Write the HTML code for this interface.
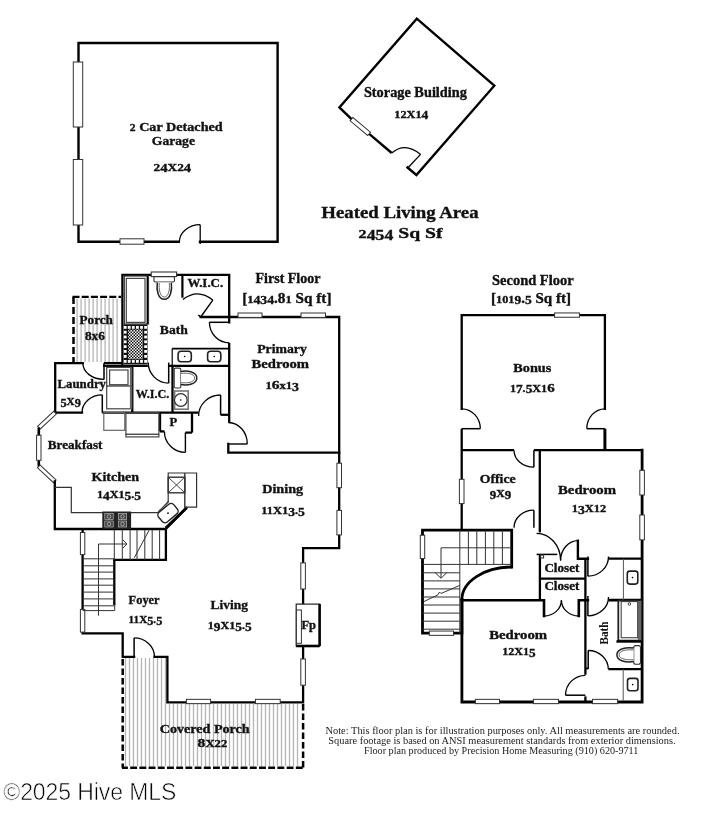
<!DOCTYPE html>
<html><head><meta charset="utf-8"><style>
html,body{margin:0;padding:0;background:#fff;width:726px;height:830px;overflow:hidden}
svg{display:block;will-change:transform}
</style></head><body>
<svg width="726" height="830" viewBox="0 0 726 830">
<rect width="726" height="830" fill="#fff"/>
<polyline points="178.8,241.8 78.5,241.8 78.5,43 277.6,43 277.6,241.8 200,241.8" fill="none" stroke="#000" stroke-width="2.4" stroke-linejoin="miter" stroke-linecap="square" />
<rect x="73.3" y="62" width="9.4" height="65" fill="#fff" stroke="#333" stroke-width="1" />
<rect x="73.3" y="159.5" width="9.4" height="65.5" fill="#fff" stroke="#333" stroke-width="1" />
<rect x="120" y="238.8" width="24" height="5.4" fill="#fff" stroke="#333" stroke-width="1" />
<line x1="200.2" y1="244" x2="200.2" y2="224.7" stroke="#000" stroke-width="1.3" />
<path d="M179.4,241.8 A20.8,17.1 0 0 1 200.2,224.7" fill="none" stroke="#000" stroke-width="1.3" />
<text x="129.8" y="130.8" font-family="Liberation Serif" font-weight="bold" textLength="92.9" lengthAdjust="spacingAndGlyphs" fill="#111" stroke="#111" stroke-width="0.35" xml:space="preserve"><tspan font-size="10.99" dy="0.00">2</tspan><tspan font-size="13.40" dy="0.00"> </tspan><tspan font-size="13.40" dy="0.00">C</tspan><tspan font-size="13.40" dy="0.00">a</tspan><tspan font-size="13.40" dy="0.00">r</tspan><tspan font-size="13.40" dy="0.00"> </tspan><tspan font-size="13.40" dy="0.00">D</tspan><tspan font-size="13.40" dy="0.00">e</tspan><tspan font-size="13.40" dy="0.00">t</tspan><tspan font-size="13.40" dy="0.00">a</tspan><tspan font-size="13.40" dy="0.00">c</tspan><tspan font-size="13.40" dy="0.00">h</tspan><tspan font-size="13.40" dy="0.00">e</tspan><tspan font-size="13.40" dy="0.00">d</tspan></text>
<text x="151.8" y="145.3" font-family="Liberation Serif" font-weight="bold" font-size="13.0" textLength="43.2" lengthAdjust="spacingAndGlyphs" fill="#111" stroke="#111" stroke-width="0.35" >Garage</text>
<text x="153.6" y="170.6" font-family="Liberation Serif" font-weight="bold" textLength="37.6" lengthAdjust="spacingAndGlyphs" fill="#111" stroke="#111" stroke-width="0.35"><tspan font-size="10.80" dy="0.00">2</tspan><tspan font-size="11.88" dy="1.70">4</tspan><tspan font-size="10.80" dy="-1.70">X</tspan><tspan font-size="10.80" dy="0.00">2</tspan><tspan font-size="11.88" dy="1.70">4</tspan></text>
<polyline points="407.5,167.5 416.4,175 494.3,85.7 416.8,18.7 339.4,107.4 351.7,119.3" fill="none" stroke="#000" stroke-width="2.4" stroke-linejoin="miter" stroke-linecap="square" />
<line x1="368.9" y1="133.7" x2="391.7" y2="153" stroke="#000" stroke-width="2.4" />
<g transform="translate(360.3,126.5) rotate(40)"><rect x="-11.5" y="-2.2" width="23" height="4.4" fill="#fff" stroke="#333" stroke-width="1"/></g>
<line x1="408.2" y1="167.5" x2="420.6" y2="154.4" stroke="#000" stroke-width="1.3" />
<path d="M391.7,153 Q405,141.5 420.6,154.4" fill="none" stroke="#000" stroke-width="1.3" />
<text x="363.9" y="97.0" font-family="Liberation Serif" font-weight="bold" font-size="13.8" textLength="103" lengthAdjust="spacingAndGlyphs" fill="#111" stroke="#111" stroke-width="0.35" >Storage Building</text>
<text x="394.3" y="117.5" font-family="Liberation Serif" font-weight="bold" textLength="34" lengthAdjust="spacingAndGlyphs" fill="#111" stroke="#111" stroke-width="0.35"><tspan font-size="10.80" dy="0.00">1</tspan><tspan font-size="10.80" dy="0.00">2</tspan><tspan font-size="10.80" dy="0.00">X</tspan><tspan font-size="10.80" dy="0.00">1</tspan><tspan font-size="11.88" dy="1.70">4</tspan></text>
<text x="321.3" y="217.8" font-family="Liberation Serif" font-weight="bold" font-size="16.5" textLength="157.3" lengthAdjust="spacingAndGlyphs" fill="#111" stroke="#111" stroke-width="0.35" >Heated Living Area</text>
<text x="358.6" y="238.4" font-family="Liberation Serif" font-weight="bold" textLength="84" lengthAdjust="spacingAndGlyphs" fill="#111" stroke="#111" stroke-width="0.35" xml:space="preserve"><tspan font-size="12.79" dy="0.00">2</tspan><tspan font-size="14.07" dy="2.01">4</tspan><tspan font-size="14.07" dy="0.00">5</tspan><tspan font-size="14.07" dy="0.00">4</tspan><tspan font-size="15.60" dy="-2.01"> </tspan><tspan font-size="15.60" dy="0.00">S</tspan><tspan font-size="15.60" dy="0.00">q</tspan><tspan font-size="15.60" dy="0.00"> </tspan><tspan font-size="15.60" dy="0.00">S</tspan><tspan font-size="15.60" dy="0.00">f</tspan></text>
<text x="255.5" y="282.5" font-family="Liberation Serif" font-weight="bold" font-size="13.8" textLength="65" lengthAdjust="spacingAndGlyphs" fill="#111" stroke="#111" stroke-width="0.35" >First Floor</text>
<text x="242.2" y="302.5" font-family="Liberation Serif" font-weight="bold" textLength="89.3" lengthAdjust="spacingAndGlyphs" fill="#111" stroke="#111" stroke-width="0.35" xml:space="preserve"><tspan font-size="13.80" dy="0.00">[</tspan><tspan font-size="11.32" dy="0.00">1</tspan><tspan font-size="12.45" dy="1.78">4</tspan><tspan font-size="12.45" dy="0.00">3</tspan><tspan font-size="12.45" dy="0.00">4</tspan><tspan font-size="13.80" dy="-1.78">.</tspan><tspan font-size="13.92" dy="0.00">8</tspan><tspan font-size="11.32" dy="0.00">1</tspan><tspan font-size="13.80" dy="0.00"> </tspan><tspan font-size="13.80" dy="0.00">S</tspan><tspan font-size="13.80" dy="0.00">q</tspan><tspan font-size="13.80" dy="0.00"> </tspan><tspan font-size="13.80" dy="0.00">f</tspan><tspan font-size="13.80" dy="0.00">t</tspan><tspan font-size="13.80" dy="0.00">]</tspan></text>
<text x="492" y="284.8" font-family="Liberation Serif" font-weight="bold" font-size="13.8" textLength="81.6" lengthAdjust="spacingAndGlyphs" fill="#111" stroke="#111" stroke-width="0.35" >Second Floor</text>
<text x="491" y="302.5" font-family="Liberation Serif" font-weight="bold" textLength="80" lengthAdjust="spacingAndGlyphs" fill="#111" stroke="#111" stroke-width="0.35" xml:space="preserve"><tspan font-size="13.80" dy="0.00">[</tspan><tspan font-size="11.32" dy="0.00">1</tspan><tspan font-size="11.32" dy="0.00">0</tspan><tspan font-size="11.32" dy="0.00">1</tspan><tspan font-size="12.45" dy="1.78">9</tspan><tspan font-size="13.80" dy="-1.78">.</tspan><tspan font-size="12.45" dy="1.78">5</tspan><tspan font-size="13.80" dy="-1.78"> </tspan><tspan font-size="13.80" dy="0.00">S</tspan><tspan font-size="13.80" dy="0.00">q</tspan><tspan font-size="13.80" dy="0.00"> </tspan><tspan font-size="13.80" dy="0.00">f</tspan><tspan font-size="13.80" dy="0.00">t</tspan><tspan font-size="13.80" dy="0.00">]</tspan></text>
<line x1="77.1" y1="298.5" x2="77.1" y2="362" stroke="#b4b4b4" stroke-width="1.3" />
<line x1="81.1" y1="298.5" x2="81.1" y2="362" stroke="#b4b4b4" stroke-width="1.3" />
<line x1="85.1" y1="298.5" x2="85.1" y2="362" stroke="#b4b4b4" stroke-width="1.3" />
<line x1="89.1" y1="298.5" x2="89.1" y2="362" stroke="#b4b4b4" stroke-width="1.3" />
<line x1="93.1" y1="298.5" x2="93.1" y2="362" stroke="#b4b4b4" stroke-width="1.3" />
<line x1="97.1" y1="298.5" x2="97.1" y2="362" stroke="#b4b4b4" stroke-width="1.3" />
<line x1="101.1" y1="298.5" x2="101.1" y2="362" stroke="#b4b4b4" stroke-width="1.3" />
<line x1="105.1" y1="298.5" x2="105.1" y2="362" stroke="#b4b4b4" stroke-width="1.3" />
<line x1="109.1" y1="298.5" x2="109.1" y2="362" stroke="#b4b4b4" stroke-width="1.3" />
<line x1="113.1" y1="298.5" x2="113.1" y2="362" stroke="#b4b4b4" stroke-width="1.3" />
<line x1="117.1" y1="298.5" x2="117.1" y2="362" stroke="#b4b4b4" stroke-width="1.3" />
<line x1="72.5" y1="296.9" x2="121" y2="296.9" stroke="#000" stroke-width="2.3" stroke-dasharray="7 2.2"/>
<line x1="73.5" y1="297" x2="73.5" y2="362" stroke="#000" stroke-width="2.5" stroke-dasharray="7 3"/>
<line x1="125.5" y1="658" x2="125.5" y2="766" stroke="#b4b4b4" stroke-width="1.3" />
<line x1="129.5" y1="658" x2="129.5" y2="766" stroke="#b4b4b4" stroke-width="1.3" />
<line x1="133.5" y1="658" x2="133.5" y2="766" stroke="#b4b4b4" stroke-width="1.3" />
<line x1="137.5" y1="658" x2="137.5" y2="766" stroke="#b4b4b4" stroke-width="1.3" />
<line x1="141.5" y1="658" x2="141.5" y2="766" stroke="#b4b4b4" stroke-width="1.3" />
<line x1="145.5" y1="658" x2="145.5" y2="766" stroke="#b4b4b4" stroke-width="1.3" />
<line x1="149.5" y1="658" x2="149.5" y2="766" stroke="#b4b4b4" stroke-width="1.3" />
<line x1="153.5" y1="658" x2="153.5" y2="766" stroke="#b4b4b4" stroke-width="1.3" />
<line x1="157.5" y1="658" x2="157.5" y2="766" stroke="#b4b4b4" stroke-width="1.3" />
<line x1="161.5" y1="658" x2="161.5" y2="766" stroke="#b4b4b4" stroke-width="1.3" />
<line x1="165.5" y1="658" x2="165.5" y2="766" stroke="#b4b4b4" stroke-width="1.3" />
<line x1="169.5" y1="704" x2="169.5" y2="766" stroke="#b4b4b4" stroke-width="1.3" />
<line x1="173.5" y1="704" x2="173.5" y2="766" stroke="#b4b4b4" stroke-width="1.3" />
<line x1="177.5" y1="704" x2="177.5" y2="766" stroke="#b4b4b4" stroke-width="1.3" />
<line x1="181.5" y1="704" x2="181.5" y2="766" stroke="#b4b4b4" stroke-width="1.3" />
<line x1="185.5" y1="704" x2="185.5" y2="766" stroke="#b4b4b4" stroke-width="1.3" />
<line x1="189.5" y1="704" x2="189.5" y2="766" stroke="#b4b4b4" stroke-width="1.3" />
<line x1="193.5" y1="704" x2="193.5" y2="766" stroke="#b4b4b4" stroke-width="1.3" />
<line x1="197.5" y1="704" x2="197.5" y2="766" stroke="#b4b4b4" stroke-width="1.3" />
<line x1="201.5" y1="704" x2="201.5" y2="766" stroke="#b4b4b4" stroke-width="1.3" />
<line x1="205.5" y1="704" x2="205.5" y2="766" stroke="#b4b4b4" stroke-width="1.3" />
<line x1="209.5" y1="704" x2="209.5" y2="766" stroke="#b4b4b4" stroke-width="1.3" />
<line x1="213.5" y1="704" x2="213.5" y2="766" stroke="#b4b4b4" stroke-width="1.3" />
<line x1="217.5" y1="704" x2="217.5" y2="766" stroke="#b4b4b4" stroke-width="1.3" />
<line x1="221.5" y1="704" x2="221.5" y2="766" stroke="#b4b4b4" stroke-width="1.3" />
<line x1="225.5" y1="704" x2="225.5" y2="766" stroke="#b4b4b4" stroke-width="1.3" />
<line x1="229.5" y1="704" x2="229.5" y2="766" stroke="#b4b4b4" stroke-width="1.3" />
<line x1="233.5" y1="704" x2="233.5" y2="766" stroke="#b4b4b4" stroke-width="1.3" />
<line x1="237.5" y1="704" x2="237.5" y2="766" stroke="#b4b4b4" stroke-width="1.3" />
<line x1="241.5" y1="704" x2="241.5" y2="766" stroke="#b4b4b4" stroke-width="1.3" />
<line x1="245.5" y1="704" x2="245.5" y2="766" stroke="#b4b4b4" stroke-width="1.3" />
<line x1="249.5" y1="704" x2="249.5" y2="766" stroke="#b4b4b4" stroke-width="1.3" />
<line x1="253.5" y1="704" x2="253.5" y2="766" stroke="#b4b4b4" stroke-width="1.3" />
<line x1="257.5" y1="704" x2="257.5" y2="766" stroke="#b4b4b4" stroke-width="1.3" />
<line x1="261.5" y1="704" x2="261.5" y2="766" stroke="#b4b4b4" stroke-width="1.3" />
<line x1="265.5" y1="704" x2="265.5" y2="766" stroke="#b4b4b4" stroke-width="1.3" />
<line x1="269.5" y1="704" x2="269.5" y2="766" stroke="#b4b4b4" stroke-width="1.3" />
<line x1="273.5" y1="704" x2="273.5" y2="766" stroke="#b4b4b4" stroke-width="1.3" />
<line x1="277.5" y1="704" x2="277.5" y2="766" stroke="#b4b4b4" stroke-width="1.3" />
<line x1="281.5" y1="704" x2="281.5" y2="766" stroke="#b4b4b4" stroke-width="1.3" />
<line x1="285.5" y1="704" x2="285.5" y2="766" stroke="#b4b4b4" stroke-width="1.3" />
<line x1="289.5" y1="704" x2="289.5" y2="766" stroke="#b4b4b4" stroke-width="1.3" />
<line x1="293.5" y1="704" x2="293.5" y2="766" stroke="#b4b4b4" stroke-width="1.3" />
<line x1="297.5" y1="704" x2="297.5" y2="766" stroke="#b4b4b4" stroke-width="1.3" />
<line x1="122.7" y1="659" x2="122.7" y2="767.8" stroke="#000" stroke-width="2.5" stroke-dasharray="6.5 3"/>
<line x1="122" y1="767.8" x2="303.1" y2="767.8" stroke="#000" stroke-width="2.5" stroke-dasharray="6.9 2.3" stroke-dashoffset="1"/>
<line x1="303.1" y1="704" x2="303.1" y2="767.8" stroke="#000" stroke-width="2.5" stroke-dasharray="6.5 3"/>
<polyline points="82.6,530 82.6,633.3 122.7,633.3 122.7,656.8 134.1,656.8" fill="none" stroke="#000" stroke-width="2.3" stroke-linejoin="miter" stroke-linecap="square" />
<polyline points="154.5,656.8 167.4,656.8 167.4,702.3 303.1,702.3 303.1,548.2 339.2,548.2 339.2,317 200.7,317" fill="none" stroke="#000" stroke-width="2.3" stroke-linejoin="miter" stroke-linecap="square" />
<line x1="134.1" y1="656.8" x2="134.1" y2="637.9" stroke="#000" stroke-width="1.5" />
<path d="M134.1,637.9 A20.4,18.9 0 0 1 154.5,656.8" fill="none" stroke="#000" stroke-width="1.3" />
<rect x="186.4" y="699.35" width="24.19999999999999" height="4.3" fill="#fff" stroke="#333" stroke-width="1" />
<rect x="255.4" y="699.35" width="24.799999999999983" height="4.3" fill="#fff" stroke="#333" stroke-width="1" />
<rect x="336.9" y="463.2" width="4.6" height="24.5" fill="#fff" stroke="#333" stroke-width="1" />
<rect x="336.9" y="510.4" width="4.6" height="24.5" fill="#fff" stroke="#333" stroke-width="1" />
<rect x="300.8" y="562.9" width="4.6" height="26.100000000000023" fill="#fff" stroke="#333" stroke-width="1" />
<rect x="300.8" y="659" width="4.6" height="26.200000000000045" fill="#fff" stroke="#333" stroke-width="1" />
<rect x="238" y="313.0" width="24" height="4.4" fill="#fff" stroke="#333" stroke-width="1" />
<rect x="301" y="313.0" width="24.5" height="4.4" fill="#fff" stroke="#333" stroke-width="1" />
<rect x="80.39999999999999" y="532.5" width="4.4" height="22.100000000000023" fill="#fff" stroke="#333" stroke-width="1" />
<rect x="80.39999999999999" y="609.4" width="4.4" height="22.700000000000045" fill="#fff" stroke="#333" stroke-width="1" />
<rect x="296.2" y="604.1" width="23.4" height="41.9" fill="#fff" stroke="#222" stroke-width="1.2" />
<line x1="319.6" y1="604.1" x2="319.6" y2="646" stroke="#000" stroke-width="2.6" />
<line x1="296.2" y1="646" x2="319.6" y2="646" stroke="#000" stroke-width="2.6" />
<rect x="296.4" y="610" width="5" height="33.3" fill="#fff" stroke="#333" stroke-width="1" />
<polyline points="122.4,365.9 122.4,274.9 229.2,274.9 229.2,322.3" fill="none" stroke="#000" stroke-width="2.3" stroke-linejoin="miter" stroke-linecap="square" />
<line x1="182.4" y1="274.8" x2="182.4" y2="297.7" stroke="#000" stroke-width="2.2" />
<line x1="198.3" y1="315" x2="200.7" y2="317" stroke="#000" stroke-width="1.6" />
<line x1="200.7" y1="317" x2="212.8" y2="300.1" stroke="#000" stroke-width="1.4" />
<path d="M182.9,299.6 Q197.6,288 212.8,300.1" fill="none" stroke="#000" stroke-width="1.3" />
<line x1="209.4" y1="322.3" x2="229.2" y2="322.3" stroke="#000" stroke-width="1.5" />
<path d="M209.4,322.3 A19.8,20.5 0 0 0 229.2,342.8" fill="none" stroke="#000" stroke-width="1.3" />
<line x1="229.2" y1="342.8" x2="229.2" y2="422.5" stroke="#000" stroke-width="2.3" />
<rect x="124.3" y="276" width="24.2" height="48" fill="#fff" stroke="#333" stroke-width="1.2" />
<rect x="126.3" y="278.4" width="18.7" height="44" fill="none" stroke="#444" stroke-width="1.2" />
<line x1="147.3" y1="276" x2="147.3" y2="324" stroke="#000" stroke-width="1.4" />
<defs><pattern id="chk" width="3" height="3" patternUnits="userSpaceOnUse" x="0" y="0"><rect width="3" height="3" fill="#fff"/><rect width="1.5" height="1.5" fill="#111"/><rect x="1.5" y="1.5" width="1.5" height="1.5" fill="#111"/></pattern></defs>
<rect x="123.6" y="324.4" width="23.9" height="40" fill="#111" stroke="#000" stroke-width="0" />
<rect x="128.2" y="329.5" width="14.6" height="29.8" fill="url(#chk)" stroke="#000" stroke-width="0" />
<rect x="123.8" y="326.0" width="2.8" height="2.8" fill="#fff" stroke="#000" stroke-width="0" />
<rect x="123.8" y="360.0" width="2.8" height="2.8" fill="#fff" stroke="#000" stroke-width="0" />
<rect x="127.79999999999998" y="326.0" width="2.8" height="2.8" fill="#fff" stroke="#000" stroke-width="0" />
<rect x="127.79999999999998" y="360.0" width="2.8" height="2.8" fill="#fff" stroke="#000" stroke-width="0" />
<rect x="131.9" y="326.0" width="2.8" height="2.8" fill="#fff" stroke="#000" stroke-width="0" />
<rect x="131.9" y="360.0" width="2.8" height="2.8" fill="#fff" stroke="#000" stroke-width="0" />
<rect x="136.0" y="326.0" width="2.8" height="2.8" fill="#fff" stroke="#000" stroke-width="0" />
<rect x="136.0" y="360.0" width="2.8" height="2.8" fill="#fff" stroke="#000" stroke-width="0" />
<rect x="140.1" y="326.0" width="2.8" height="2.8" fill="#fff" stroke="#000" stroke-width="0" />
<rect x="140.1" y="360.0" width="2.8" height="2.8" fill="#fff" stroke="#000" stroke-width="0" />
<rect x="144.2" y="326.0" width="2.8" height="2.8" fill="#fff" stroke="#000" stroke-width="0" />
<rect x="144.2" y="360.0" width="2.8" height="2.8" fill="#fff" stroke="#000" stroke-width="0" />
<rect x="123.8" y="330.8" width="2.8" height="2.8" fill="#fff" stroke="#000" stroke-width="0" />
<rect x="144.2" y="330.8" width="2.8" height="2.8" fill="#fff" stroke="#000" stroke-width="0" />
<rect x="123.8" y="335.6" width="2.8" height="2.8" fill="#fff" stroke="#000" stroke-width="0" />
<rect x="144.2" y="335.6" width="2.8" height="2.8" fill="#fff" stroke="#000" stroke-width="0" />
<rect x="123.8" y="340.40000000000003" width="2.8" height="2.8" fill="#fff" stroke="#000" stroke-width="0" />
<rect x="144.2" y="340.40000000000003" width="2.8" height="2.8" fill="#fff" stroke="#000" stroke-width="0" />
<rect x="123.8" y="345.20000000000005" width="2.8" height="2.8" fill="#fff" stroke="#000" stroke-width="0" />
<rect x="144.2" y="345.20000000000005" width="2.8" height="2.8" fill="#fff" stroke="#000" stroke-width="0" />
<rect x="123.8" y="350.0" width="2.8" height="2.8" fill="#fff" stroke="#000" stroke-width="0" />
<rect x="144.2" y="350.0" width="2.8" height="2.8" fill="#fff" stroke="#000" stroke-width="0" />
<rect x="123.8" y="355.0" width="2.8" height="2.8" fill="#fff" stroke="#000" stroke-width="0" />
<rect x="144.2" y="355.0" width="2.8" height="2.8" fill="#fff" stroke="#000" stroke-width="0" />
<rect x="151.2" y="272" width="25.4" height="4.6" fill="#fff" stroke="#333" stroke-width="1.1" />
<rect x="153.9" y="276.6" width="20.6" height="5.4" fill="#fff" stroke="#333" stroke-width="1.1" rx="1.5"/>
<path d="M157.3,282.6 C156.3,290 158,299.2 164.3,299.2 C170.6,299.2 172.3,290 171.3,282.6" fill="#fff" stroke="#222" stroke-width="1.5" />
<path d="M159.3,283 C158.6,289 160,297 164.3,297 C168.6,297 170,289 169.3,283" fill="none" stroke="#444" stroke-width="0.8" />
<line x1="172.2" y1="348.6" x2="229.2" y2="348.6" stroke="#000" stroke-width="1.8" />
<line x1="172.2" y1="348.6" x2="172.2" y2="365.9" stroke="#000" stroke-width="1.2" />
<line x1="168.7" y1="365.9" x2="229.2" y2="365.9" stroke="#000" stroke-width="2.3" />
<rect x="178.1" y="351.2" width="13.2" height="10.5" fill="#fff" stroke="#222" stroke-width="1.6" rx="3"/>
<rect x="207.6" y="351.2" width="13.2" height="10.5" fill="#fff" stroke="#222" stroke-width="1.6" rx="3"/>
<circle cx="184.7" cy="356.5" r="0.8" fill="#000"/><circle cx="214.2" cy="356.5" r="0.8" fill="#000"/>
<line x1="168.7" y1="362.6" x2="168.7" y2="383.1" stroke="#000" stroke-width="1.5" />
<path d="M148.2,362.6 A20.5,20.5 0 0 0 168.7,383.1" fill="none" stroke="#000" stroke-width="1.3" />
<line x1="172.5" y1="364.8" x2="172.5" y2="412.7" stroke="#000" stroke-width="2.3" />
<line x1="132.3" y1="365.9" x2="132.3" y2="412.7" stroke="#000" stroke-width="2.3" />
<line x1="103" y1="365.9" x2="147.8" y2="365.9" stroke="#000" stroke-width="2.3" />
<line x1="102.3" y1="412.7" x2="198.6" y2="412.7" stroke="#000" stroke-width="2.3" />
<rect x="174.2" y="368.1" width="6.6" height="19.9" fill="#fff" stroke="#333" stroke-width="1.1" rx="1.5"/>
<path d="M180.8,371.4 C188,370.3 196.8,371.8 196.8,378 C196.8,384.2 188,385.7 180.8,384.6" fill="#fff" stroke="#222" stroke-width="1.5" />
<path d="M181,373.4 C187,372.6 194.6,373.6 194.6,378 C194.6,382.4 187,383.4 181,382.6" fill="none" stroke="#444" stroke-width="0.8" />
<rect x="174.6" y="391" width="13.6" height="18.2" fill="#fff" stroke="#777" stroke-width="1.6" />
<circle cx="180.8" cy="400" r="6.3" fill="#fff" stroke="#333" stroke-width="1.2"/><circle cx="180.8" cy="400" r="0.8" fill="#000"/>
<path d="M198.6,415.9 A22,20.9 0 0 1 220.6,395" fill="none" stroke="#000" stroke-width="1.3" />
<line x1="220.6" y1="395" x2="220.6" y2="414.8" stroke="#000" stroke-width="1.5" />
<line x1="220.6" y1="414.8" x2="229.2" y2="414.8" stroke="#000" stroke-width="2.2" />
<path d="M228.3,422.5 A19,21.5 0 0 1 247.3,444" fill="none" stroke="#000" stroke-width="1.3" />
<line x1="228.3" y1="444" x2="247.3" y2="444" stroke="#000" stroke-width="1.4" />
<polyline points="228.3,444 228.3,452.6 339.2,452.6" fill="none" stroke="#000" stroke-width="2.3" stroke-linejoin="miter" stroke-linecap="square" />
<line x1="160" y1="412.7" x2="160" y2="431.4" stroke="#000" stroke-width="2.3" />
<line x1="160" y1="431.4" x2="164.4" y2="431.4" stroke="#000" stroke-width="2.3" />
<line x1="192" y1="412.7" x2="192" y2="432.6" stroke="#000" stroke-width="2.3" />
<line x1="185.4" y1="432.5" x2="185.4" y2="452.3" stroke="#000" stroke-width="1.4" />
<path d="M164.4,431.4 A21,20.9 0 0 0 185.4,452.3" fill="none" stroke="#000" stroke-width="1.3" />
<line x1="185.4" y1="432.6" x2="192" y2="432.6" stroke="#000" stroke-width="2.2" />
<rect x="103.8" y="412.7" width="21" height="17.6" fill="none" stroke="#666" stroke-width="1.2" />
<rect x="125.9" y="412.7" width="33" height="24.2" fill="none" stroke="#444" stroke-width="1.2" />
<line x1="125.9" y1="434.2" x2="158.9" y2="434.2" stroke="#000" stroke-width="1" />
<polyline points="82.8,363.1 55.2,363.1 55.2,412.7 82,412.7" fill="none" stroke="#000" stroke-width="2.3" stroke-linejoin="miter" stroke-linecap="square" />
<line x1="104" y1="363.1" x2="123" y2="363.1" stroke="#000" stroke-width="2.3" />
<line x1="104" y1="363.1" x2="104" y2="379.4" stroke="#000" stroke-width="1.5" />
<path d="M82.8,363.1 A21.2,16.3 0 0 0 104,379.4" fill="none" stroke="#000" stroke-width="1.3" />
<line x1="102.3" y1="394.8" x2="102.3" y2="412.7" stroke="#000" stroke-width="1.5" />
<path d="M82,412.7 A20.3,17.9 0 0 1 102.3,394.8" fill="none" stroke="#000" stroke-width="1.3" />
<rect x="106.7" y="367.4" width="25.1" height="41.4" fill="#fff" stroke="#444" stroke-width="1.2" />
<rect x="109.6" y="370" width="18.4" height="14.7" fill="none" stroke="#444" stroke-width="1.2" />
<line x1="106.7" y1="386" x2="131.8" y2="386" stroke="#000" stroke-width="1" />
<line x1="130.7" y1="367.4" x2="130.7" y2="408.8" stroke="#666" stroke-width="1.6" />
<g transform="translate(47,420.1) rotate(-43)"><rect x="-11" y="-1.9" width="22" height="3.8" fill="#fff" stroke="#333" stroke-width="1"/></g>
<line x1="38.8" y1="427.5" x2="38.8" y2="466.5" stroke="#000" stroke-width="2.6" />
<rect x="36.599999999999994" y="435.2" width="4.4" height="25.100000000000023" fill="#fff" stroke="#333" stroke-width="1" />
<g transform="translate(46.8,473.9) rotate(43)"><rect x="-11" y="-1.9" width="22" height="3.8" fill="#fff" stroke="#333" stroke-width="1"/></g>
<polyline points="54.8,481.3 54.8,529 165.7,529 186.4,508" fill="none" stroke="#000" stroke-width="2.3" stroke-linejoin="miter" stroke-linecap="square" />
<line x1="186.4" y1="508" x2="165.7" y2="527.9" stroke="#000" stroke-width="2.8" />
<polyline points="55.3,487.4 71.3,487.4 71.3,512.7 157.7,512.7 168.2,501.7" fill="none" stroke="#333" stroke-width="1.2" stroke-linejoin="miter" stroke-linecap="square" />
<polyline points="168.2,501.7 168.2,473 196.6,473 196.6,507.2 184.8,507.2" fill="none" stroke="#333" stroke-width="1.2" stroke-linejoin="miter" stroke-linecap="square" />
<line x1="184.8" y1="473" x2="184.8" y2="507.2" stroke="#333" stroke-width="1.4" />
<rect x="168.2" y="477.2" width="16.6" height="15.6" fill="none" stroke="#333" stroke-width="1.4" />
<line x1="168.2" y1="477.2" x2="184.8" y2="492.8" stroke="#333" stroke-width="0.9" />
<line x1="184.8" y1="477.2" x2="168.2" y2="492.8" stroke="#333" stroke-width="0.9" />
<line x1="158.5" y1="511" x2="168.5" y2="502.5" stroke="#555" stroke-width="0.8" />
<g transform="translate(168,513.1) rotate(-40)"><rect x="-9.8" y="-6.3" width="19.6" height="12.6" rx="3.5" fill="#fff" stroke="#222" stroke-width="1.4"/><circle r="0.9" fill="#000"/></g>
<rect x="102.3" y="511.5" width="28.8" height="17.5" fill="#222" stroke="#000" stroke-width="0" />
<rect x="104.8" y="513.5" width="8.4" height="6" fill="#444" stroke="#ccc" stroke-width="0.6"/><circle cx="109" cy="516.5" r="1.8" fill="none" stroke="#ddd" stroke-width="0.6"/>
<rect x="104.8" y="521" width="8.4" height="6" fill="#444" stroke="#ccc" stroke-width="0.6"/><circle cx="109" cy="524" r="1.8" fill="none" stroke="#ddd" stroke-width="0.6"/>
<rect x="118.3" y="513.5" width="8.4" height="6" fill="#444" stroke="#ccc" stroke-width="0.6"/><circle cx="122.5" cy="516.5" r="1.8" fill="none" stroke="#ddd" stroke-width="0.6"/>
<rect x="118.3" y="521" width="8.4" height="6" fill="#444" stroke="#ccc" stroke-width="0.6"/><circle cx="122.5" cy="524" r="1.8" fill="none" stroke="#ddd" stroke-width="0.6"/>
<polyline points="114.3,559.9 165.9,559.9 165.9,530" fill="none" stroke="#000" stroke-width="2.3" stroke-linejoin="miter" stroke-linecap="square" />
<line x1="114.3" y1="559.9" x2="114.3" y2="605.2" stroke="#000" stroke-width="2.3" />
<line x1="122.3" y1="530" x2="122.3" y2="559.9" stroke="#333" stroke-width="1" />
<line x1="130.1" y1="530" x2="130.1" y2="559.9" stroke="#333" stroke-width="1" />
<line x1="137" y1="530" x2="137" y2="559.9" stroke="#333" stroke-width="1" />
<line x1="144.8" y1="530" x2="144.8" y2="559.9" stroke="#333" stroke-width="1" />
<line x1="152.2" y1="530" x2="152.2" y2="559.9" stroke="#333" stroke-width="1" />
<line x1="159.6" y1="530" x2="159.6" y2="559.9" stroke="#333" stroke-width="1" />
<line x1="114.3" y1="530" x2="114.3" y2="559.9" stroke="#333" stroke-width="1" />
<line x1="82.6" y1="558.8" x2="114.3" y2="558.8" stroke="#333" stroke-width="1" />
<line x1="82.6" y1="565.8" x2="114.3" y2="565.8" stroke="#333" stroke-width="1" />
<line x1="82.6" y1="572.1" x2="114.3" y2="572.1" stroke="#333" stroke-width="1" />
<line x1="82.6" y1="578.9" x2="114.3" y2="578.9" stroke="#333" stroke-width="1" />
<line x1="82.6" y1="585.2" x2="114.3" y2="585.2" stroke="#333" stroke-width="1" />
<line x1="82.6" y1="592.1" x2="114.3" y2="592.1" stroke="#333" stroke-width="1" />
<line x1="82.6" y1="598.9" x2="114.3" y2="598.9" stroke="#333" stroke-width="1" />
<line x1="82.6" y1="605.8" x2="114.3" y2="605.8" stroke="#333" stroke-width="1" />
<line x1="82.6" y1="610.6" x2="114.7" y2="610.6" stroke="#333" stroke-width="1" />
<line x1="114.7" y1="604" x2="114.7" y2="610.6" stroke="#333" stroke-width="1" />
<line x1="98.5" y1="544" x2="98.5" y2="615.7" stroke="#333" stroke-width="1" />
<line x1="98.5" y1="544" x2="127" y2="544" stroke="#333" stroke-width="1" />
<path d="M123,540 L127,544 L123,548" fill="none" stroke="#333" stroke-width="1" />
<line x1="134.3" y1="557.8" x2="149" y2="530.4" stroke="#333" stroke-width="1" />
<text x="187.4" y="286.5" font-family="Liberation Serif" font-weight="bold" font-size="13.2" textLength="35.8" lengthAdjust="spacingAndGlyphs" fill="#111" stroke="#111" stroke-width="0.35" >W.I.C.</text>
<text x="159.8" y="333.6" font-family="Liberation Serif" font-weight="bold" font-size="13.2" textLength="28" lengthAdjust="spacingAndGlyphs" fill="#111" stroke="#111" stroke-width="0.35" >Bath</text>
<text x="79.5" y="323.6" font-family="Liberation Serif" font-weight="bold" font-size="13.2" textLength="33.4" lengthAdjust="spacingAndGlyphs" fill="#111" stroke="#111" stroke-width="0.35" >Porch</text>
<text x="84.9" y="339.5" font-family="Liberation Serif" font-weight="bold" font-size="13.2" textLength="20" lengthAdjust="spacingAndGlyphs" fill="#111" stroke="#111" stroke-width="0.35" >8x6</text>
<text x="57.5" y="387.8" font-family="Liberation Serif" font-weight="bold" font-size="13.2" textLength="48.5" lengthAdjust="spacingAndGlyphs" fill="#111" stroke="#111" stroke-width="0.35" >Laundry</text>
<text x="60.5" y="405.4" font-family="Liberation Serif" font-weight="bold" textLength="20.3" lengthAdjust="spacingAndGlyphs" fill="#111" stroke="#111" stroke-width="0.35"><tspan font-size="11.88" dy="1.70">5</tspan><tspan font-size="10.80" dy="-1.70">X</tspan><tspan font-size="11.88" dy="1.70">9</tspan></text>
<text x="135.7" y="398.2" font-family="Liberation Serif" font-weight="bold" font-size="13.2" textLength="33.7" lengthAdjust="spacingAndGlyphs" fill="#111" stroke="#111" stroke-width="0.35" >W.I.C.</text>
<text x="169.4" y="426.2" font-family="Liberation Serif" font-weight="bold" font-size="13.2" textLength="7.7" lengthAdjust="spacingAndGlyphs" fill="#111" stroke="#111" stroke-width="0.35" >P</text>
<text x="257.2" y="352.6" font-family="Liberation Serif" font-weight="bold" font-size="13.2" textLength="49.6" lengthAdjust="spacingAndGlyphs" fill="#111" stroke="#111" stroke-width="0.35" >Primary</text>
<text x="251.5" y="368" font-family="Liberation Serif" font-weight="bold" font-size="13.2" textLength="57.5" lengthAdjust="spacingAndGlyphs" fill="#111" stroke="#111" stroke-width="0.35" >Bedroom</text>
<text x="265.4" y="389" font-family="Liberation Serif" font-weight="bold" textLength="33.6" lengthAdjust="spacingAndGlyphs" fill="#111" stroke="#111" stroke-width="0.35"><tspan font-size="10.80" dy="0.00">1</tspan><tspan font-size="13.28" dy="0.00">6</tspan><tspan font-size="10.80" dy="0.00">x</tspan><tspan font-size="10.80" dy="0.00">1</tspan><tspan font-size="11.88" dy="1.70">3</tspan></text>
<text x="47.8" y="448.8" font-family="Liberation Serif" font-weight="bold" font-size="13.2" textLength="54.6" lengthAdjust="spacingAndGlyphs" fill="#111" stroke="#111" stroke-width="0.35" >Breakfast</text>
<text x="91.5" y="481.3" font-family="Liberation Serif" font-weight="bold" font-size="13.2" textLength="47.5" lengthAdjust="spacingAndGlyphs" fill="#111" stroke="#111" stroke-width="0.35" >Kitchen</text>
<text x="96.9" y="498" font-family="Liberation Serif" font-weight="bold" textLength="44" lengthAdjust="spacingAndGlyphs" fill="#111" stroke="#111" stroke-width="0.35"><tspan font-size="10.80" dy="0.00">1</tspan><tspan font-size="11.88" dy="1.70">4</tspan><tspan font-size="10.80" dy="-1.70">X</tspan><tspan font-size="10.80" dy="0.00">1</tspan><tspan font-size="11.88" dy="1.70">5</tspan><tspan font-size="10.80" dy="-1.70">.</tspan><tspan font-size="11.88" dy="1.70">5</tspan></text>
<text x="262.2" y="493" font-family="Liberation Serif" font-weight="bold" font-size="13.2" textLength="41" lengthAdjust="spacingAndGlyphs" fill="#111" stroke="#111" stroke-width="0.35" >Dining</text>
<text x="261.2" y="514" font-family="Liberation Serif" font-weight="bold" textLength="43.7" lengthAdjust="spacingAndGlyphs" fill="#111" stroke="#111" stroke-width="0.35"><tspan font-size="10.80" dy="0.00">1</tspan><tspan font-size="10.80" dy="0.00">1</tspan><tspan font-size="10.80" dy="0.00">X</tspan><tspan font-size="10.80" dy="0.00">1</tspan><tspan font-size="11.88" dy="1.70">3</tspan><tspan font-size="10.80" dy="-1.70">.</tspan><tspan font-size="11.88" dy="1.70">5</tspan></text>
<text x="128.6" y="603.7" font-family="Liberation Serif" font-weight="bold" font-size="13.2" textLength="31" lengthAdjust="spacingAndGlyphs" fill="#111" stroke="#111" stroke-width="0.35" >Foyer</text>
<text x="128.6" y="623.1" font-family="Liberation Serif" font-weight="bold" textLength="33.7" lengthAdjust="spacingAndGlyphs" fill="#111" stroke="#111" stroke-width="0.35"><tspan font-size="10.80" dy="0.00">1</tspan><tspan font-size="10.80" dy="0.00">1</tspan><tspan font-size="10.80" dy="0.00">X</tspan><tspan font-size="11.88" dy="1.70">5</tspan><tspan font-size="10.80" dy="-1.70">.</tspan><tspan font-size="11.88" dy="1.70">5</tspan></text>
<text x="210.5" y="609" font-family="Liberation Serif" font-weight="bold" font-size="13.2" textLength="37.4" lengthAdjust="spacingAndGlyphs" fill="#111" stroke="#111" stroke-width="0.35" >Living</text>
<text x="207.7" y="629.3" font-family="Liberation Serif" font-weight="bold" textLength="44" lengthAdjust="spacingAndGlyphs" fill="#111" stroke="#111" stroke-width="0.35"><tspan font-size="10.80" dy="0.00">1</tspan><tspan font-size="11.88" dy="1.70">9</tspan><tspan font-size="10.80" dy="-1.70">X</tspan><tspan font-size="10.80" dy="0.00">1</tspan><tspan font-size="11.88" dy="1.70">5</tspan><tspan font-size="10.80" dy="-1.70">.</tspan><tspan font-size="11.88" dy="1.70">5</tspan></text>
<text x="301.4" y="628.6" font-family="Liberation Serif" font-weight="bold" font-size="13.2" textLength="14.6" lengthAdjust="spacingAndGlyphs" fill="#111" stroke="#111" stroke-width="0.35" >Fp</text>
<text x="159.7" y="733" font-family="Liberation Serif" font-weight="bold" font-size="13.2" textLength="90" lengthAdjust="spacingAndGlyphs" fill="#111" stroke="#111" stroke-width="0.35" >Covered Porch</text>
<text x="197.6" y="747" font-family="Liberation Serif" font-weight="bold" textLength="29.7" lengthAdjust="spacingAndGlyphs" fill="#111" stroke="#111" stroke-width="0.35"><tspan font-size="13.28" dy="0.00">8</tspan><tspan font-size="10.80" dy="0.00">X</tspan><tspan font-size="10.80" dy="0.00">2</tspan><tspan font-size="10.80" dy="0.00">2</tspan></text>
<polyline points="461.7,408.8 461.7,315.1 604.9,315.1 604.9,408.8" fill="none" stroke="#000" stroke-width="2.3" stroke-linejoin="miter" stroke-linecap="square" />
<rect x="554.6" y="312.95000000000005" width="24.799999999999955" height="4.3" fill="#fff" stroke="#333" stroke-width="1" />
<line x1="461.7" y1="428.7" x2="461.7" y2="530.2" stroke="#000" stroke-width="2.3" />
<line x1="604.9" y1="428.7" x2="604.9" y2="450.2" stroke="#000" stroke-width="3" />
<line x1="461.7" y1="428.7" x2="480.3" y2="428.7" stroke="#000" stroke-width="1.5" />
<path d="M461.7,408.8 A18.6,19.9 0 0 1 480.3,428.7" fill="none" stroke="#000" stroke-width="1.3" />
<line x1="586.8" y1="428.7" x2="604.9" y2="428.7" stroke="#000" stroke-width="1.5" />
<path d="M604.9,408.8 A18.1,19.9 0 0 0 586.8,428.7" fill="none" stroke="#000" stroke-width="1.3" />
<line x1="461.7" y1="450.2" x2="514" y2="450.2" stroke="#000" stroke-width="2.3" />
<line x1="533.9" y1="450.2" x2="642.4" y2="450.2" stroke="#000" stroke-width="2.3" />
<line x1="533.9" y1="450.2" x2="533.9" y2="467.2" stroke="#000" stroke-width="1.5" />
<path d="M514,450.2 A19.9,17 0 0 0 533.9,467.2" fill="none" stroke="#000" stroke-width="1.3" />
<line x1="539.8" y1="450.2" x2="539.8" y2="532.4" stroke="#000" stroke-width="2.3" />
<polyline points="642.1,450.2 642.1,702 461.9,702 461.9,599.7" fill="none" stroke="#000" stroke-width="2.8" stroke-linejoin="miter" stroke-linecap="square" />
<rect x="639.8000000000001" y="470.3" width="4.6" height="24.69999999999999" fill="#fff" stroke="#333" stroke-width="1" />
<rect x="639.8000000000001" y="515" width="4.6" height="24.899999999999977" fill="#fff" stroke="#333" stroke-width="1" />
<rect x="459.4" y="479.3" width="4.6" height="24.30000000000001" fill="#fff" stroke="#333" stroke-width="1" />
<rect x="475.4" y="699.35" width="24.100000000000023" height="4.3" fill="#fff" stroke="#333" stroke-width="1" />
<rect x="533.4" y="699.35" width="25.100000000000023" height="4.3" fill="#fff" stroke="#333" stroke-width="1" />
<rect x="592.5" y="699.35" width="25.100000000000023" height="4.3" fill="#fff" stroke="#333" stroke-width="1" />
<line x1="533.9" y1="510.2" x2="533.9" y2="527.8" stroke="#000" stroke-width="1.5" />
<path d="M514,527.8 A19.9,17.6 0 0 1 533.9,510.2" fill="none" stroke="#000" stroke-width="1.3" />
<polyline points="511.7,567 511.7,530.2 422.5,530.2 422.5,633.2 461.9,633.2 461.9,599.7" fill="none" stroke="#000" stroke-width="2.8" stroke-linejoin="miter" stroke-linecap="square" />
<path d="M461.9,599.7 A49.8,32.7 0 0 1 511.7,567" fill="none" stroke="#000" stroke-width="2.8" />
<rect x="420.3" y="535.2" width="4.4" height="23.299999999999955" fill="#fff" stroke="#333" stroke-width="1" />
<rect x="429.3" y="631.0500000000001" width="24.19999999999999" height="4.3" fill="#fff" stroke="#333" stroke-width="1" />
<line x1="468.4" y1="530.2" x2="468.4" y2="564.4" stroke="#333" stroke-width="1" />
<line x1="476.8" y1="530.2" x2="476.8" y2="564.4" stroke="#333" stroke-width="1" />
<line x1="485.4" y1="530.2" x2="485.4" y2="564.4" stroke="#333" stroke-width="1" />
<line x1="493.8" y1="530.2" x2="493.8" y2="564.4" stroke="#333" stroke-width="1" />
<line x1="502.4" y1="530.2" x2="502.4" y2="564.4" stroke="#333" stroke-width="1" />
<line x1="459.8" y1="530.2" x2="459.8" y2="633.2" stroke="#333" stroke-width="1" />
<line x1="422.5" y1="564.4" x2="511.7" y2="564.4" stroke="#333" stroke-width="1" />
<line x1="422.5" y1="572.8" x2="459.8" y2="572.8" stroke="#333" stroke-width="1" />
<line x1="422.5" y1="580.9" x2="459.8" y2="580.9" stroke="#333" stroke-width="1" />
<line x1="422.5" y1="588.9" x2="459.8" y2="588.9" stroke="#333" stroke-width="1" />
<line x1="422.5" y1="597" x2="459.8" y2="597" stroke="#333" stroke-width="1" />
<line x1="422.5" y1="605" x2="459.8" y2="605" stroke="#333" stroke-width="1" />
<line x1="422.5" y1="613.1" x2="459.8" y2="613.1" stroke="#333" stroke-width="1" />
<line x1="422.5" y1="621.2" x2="459.8" y2="621.2" stroke="#333" stroke-width="1" />
<line x1="422.5" y1="629.2" x2="459.8" y2="629.2" stroke="#333" stroke-width="1" />
<line x1="441" y1="547.8" x2="511.7" y2="547.8" stroke="#333" stroke-width="1" />
<line x1="441" y1="547.8" x2="441" y2="578.2" stroke="#333" stroke-width="1" />
<path d="M435,572.5 L441,578.2 L447,572.5" fill="none" stroke="#333" stroke-width="1" />
<path d="M424,601.5 L438,594.8 L439.5,592 L441,593.5 L459.8,585.4" fill="none" stroke="#333" stroke-width="1" />
<line x1="536.6" y1="554.4" x2="557.3" y2="554.4" stroke="#000" stroke-width="1.5" />
<path d="M536.6,533.3 A24,27.2 0 0 1 560.6,560.5" fill="none" stroke="#000" stroke-width="1.3" />
<path d="M560.6,560.5 A17.3,19.8 0 0 1 577.9,540.7" fill="none" stroke="#000" stroke-width="1.3" />
<polyline points="577.9,540.7 577.9,558.7 587.9,558.7" fill="none" stroke="#000" stroke-width="2.4" stroke-linejoin="miter" stroke-linecap="square" />
<line x1="608.5" y1="558.7" x2="642.1" y2="558.7" stroke="#000" stroke-width="2.3" />
<line x1="539.9" y1="554.4" x2="539.9" y2="600.2" stroke="#000" stroke-width="2.3" />
<rect x="540.6" y="555" width="3" height="3" fill="none" stroke="#333" stroke-width="1" />
<line x1="539.9" y1="578.7" x2="585.4" y2="578.7" stroke="#000" stroke-width="2.3" />
<line x1="585.4" y1="558.7" x2="585.4" y2="674.7" stroke="#000" stroke-width="2.3" />
<line x1="585.4" y1="696.4" x2="585.4" y2="702" stroke="#000" stroke-width="2.3" />
<polyline points="461.9,600.2 544,600.2 544,616" fill="none" stroke="#000" stroke-width="2.6" stroke-linejoin="miter" stroke-linecap="square" />
<polyline points="578.8,616 578.8,600.2 587.9,600.2" fill="none" stroke="#000" stroke-width="2.6" stroke-linejoin="miter" stroke-linecap="square" />
<line x1="608.5" y1="600.2" x2="642.1" y2="600.2" stroke="#000" stroke-width="2.8" />
<path d="M544,616 A17.4,16 0 0 0 561.4,600.2" fill="none" stroke="#000" stroke-width="1.3" />
<path d="M578.8,616 A17.4,16 0 0 1 561.4,600.2" fill="none" stroke="#000" stroke-width="1.3" />
<line x1="587.9" y1="556.4" x2="587.9" y2="576.2" stroke="#000" stroke-width="1.5" />
<path d="M587.9,576.2 A20.6,19.8 0 0 0 608.5,556.4" fill="none" stroke="#000" stroke-width="1.3" />
<line x1="587.9" y1="596" x2="587.9" y2="615.9" stroke="#000" stroke-width="1.5" />
<path d="M587.9,615.9 A20.6,19 0 0 0 608.5,596.9" fill="none" stroke="#000" stroke-width="1.3" />
<line x1="623.4" y1="558.7" x2="623.4" y2="600.2" stroke="#555" stroke-width="1" />
<rect x="627.3" y="571.1" width="10.5" height="13" fill="#fff" stroke="#222" stroke-width="1.6" rx="2.5"/>
<circle cx="632.5" cy="577.6" r="0.8" fill="#000"/>
<rect x="618.3" y="600.6" width="23.1" height="40" fill="#fff" stroke="#222" stroke-width="1.8" />
<rect x="621.2" y="601.6" width="16.4" height="36.1" fill="none" stroke="#444" stroke-width="1.1" />
<rect x="637.8" y="601" width="3.4" height="39.5" fill="#666" stroke="#000" stroke-width="0" />
<line x1="616.4" y1="641.5" x2="641.8" y2="641.5" stroke="#000" stroke-width="2.4" />
<circle cx="629.4" cy="604" r="1.3" fill="none" stroke="#333" stroke-width="0.9"/>
<rect x="633.7" y="645.6" width="6.8" height="18.6" fill="#fff" stroke="#333" stroke-width="1.1" rx="2"/>
<path d="M633.7,648 C626,647 616.9,648.5 616.9,654.8 C616.9,661.1 626,662.6 633.7,661.6" fill="#fff" stroke="#222" stroke-width="1.5" />
<path d="M633.5,650 C627.5,649.3 619.1,650.3 619.1,654.8 C619.1,659.3 627.5,660.3 633.5,659.6" fill="none" stroke="#444" stroke-width="0.8" />
<line x1="585.4" y1="668.5" x2="588.2" y2="668.5" stroke="#000" stroke-width="2" />
<line x1="588.2" y1="650.5" x2="588.2" y2="669.1" stroke="#000" stroke-width="1.5" />
<path d="M588.2,650.5 A20.1,18.6 0 0 1 608.3,669.1" fill="none" stroke="#000" stroke-width="1.3" />
<line x1="608.3" y1="669.1" x2="642.1" y2="669.1" stroke="#000" stroke-width="2.3" />
<line x1="623.2" y1="669.1" x2="623.2" y2="701" stroke="#555" stroke-width="1" />
<rect x="627.5" y="678.4" width="10.5" height="12.4" fill="#fff" stroke="#222" stroke-width="1.6" rx="2.5"/>
<circle cx="632.7" cy="684.6" r="0.8" fill="#000"/>
<line x1="565.5" y1="695.2" x2="585.4" y2="695.2" stroke="#000" stroke-width="1.5" />
<path d="M585.4,675.3 A19.9,19.9 0 0 0 565.5,695.2" fill="none" stroke="#000" stroke-width="1.3" />
<text x="513.3" y="372" font-family="Liberation Serif" font-weight="bold" font-size="13.2" textLength="38" lengthAdjust="spacingAndGlyphs" fill="#111" stroke="#111" stroke-width="0.35" >Bonus</text>
<text x="509.9" y="391.5" font-family="Liberation Serif" font-weight="bold" textLength="44.7" lengthAdjust="spacingAndGlyphs" fill="#111" stroke="#111" stroke-width="0.35"><tspan font-size="10.80" dy="0.00">1</tspan><tspan font-size="11.88" dy="1.70">7</tspan><tspan font-size="10.80" dy="-1.70">.</tspan><tspan font-size="11.88" dy="1.70">5</tspan><tspan font-size="10.80" dy="-1.70">X</tspan><tspan font-size="10.80" dy="0.00">1</tspan><tspan font-size="13.28" dy="0.00">6</tspan></text>
<text x="479.7" y="482.6" font-family="Liberation Serif" font-weight="bold" font-size="13.2" textLength="36" lengthAdjust="spacingAndGlyphs" fill="#111" stroke="#111" stroke-width="0.35" >Office</text>
<text x="489.8" y="497.4" font-family="Liberation Serif" font-weight="bold" textLength="21.4" lengthAdjust="spacingAndGlyphs" fill="#111" stroke="#111" stroke-width="0.35"><tspan font-size="11.88" dy="1.70">9</tspan><tspan font-size="10.80" dy="-1.70">X</tspan><tspan font-size="11.88" dy="1.70">9</tspan></text>
<text x="558" y="494.4" font-family="Liberation Serif" font-weight="bold" font-size="13.2" textLength="58" lengthAdjust="spacingAndGlyphs" fill="#111" stroke="#111" stroke-width="0.35" >Bedroom</text>
<text x="571.8" y="512.3" font-family="Liberation Serif" font-weight="bold" textLength="34.5" lengthAdjust="spacingAndGlyphs" fill="#111" stroke="#111" stroke-width="0.35"><tspan font-size="10.80" dy="0.00">1</tspan><tspan font-size="11.88" dy="1.70">3</tspan><tspan font-size="10.80" dy="-1.70">X</tspan><tspan font-size="10.80" dy="0.00">1</tspan><tspan font-size="10.80" dy="0.00">2</tspan></text>
<text x="544.4" y="572.2" font-family="Liberation Serif" font-weight="bold" font-size="13.2" textLength="35" lengthAdjust="spacingAndGlyphs" fill="#111" stroke="#111" stroke-width="0.35" >Closet</text>
<text x="544.4" y="590.2" font-family="Liberation Serif" font-weight="bold" font-size="13.2" textLength="35" lengthAdjust="spacingAndGlyphs" fill="#111" stroke="#111" stroke-width="0.35" >Closet</text>
<text x="489.2" y="639" font-family="Liberation Serif" font-weight="bold" font-size="13.2" textLength="58" lengthAdjust="spacingAndGlyphs" fill="#111" stroke="#111" stroke-width="0.35" >Bedroom</text>
<text x="502.3" y="655.2" font-family="Liberation Serif" font-weight="bold" textLength="33.4" lengthAdjust="spacingAndGlyphs" fill="#111" stroke="#111" stroke-width="0.35"><tspan font-size="10.80" dy="0.00">1</tspan><tspan font-size="10.80" dy="0.00">2</tspan><tspan font-size="10.80" dy="0.00">X</tspan><tspan font-size="10.80" dy="0.00">1</tspan><tspan font-size="11.88" dy="1.70">5</tspan></text>
<text x="0" y="0" font-family="Liberation Serif" font-weight="bold" font-size="12.6" textLength="23" lengthAdjust="spacingAndGlyphs" fill="#111" transform="translate(607.8,644.5) rotate(-90)">Bath</text>
<text x="325.5" y="733.8" font-family="Liberation Serif" font-weight="normal" font-size="9.6" textLength="354" lengthAdjust="spacingAndGlyphs" fill="#222"  >Note: This floor plan is for illustration purposes only. All measurements are rounded.</text>
<text x="328.3" y="744.2" font-family="Liberation Serif" font-weight="normal" font-size="9.6" textLength="347.3" lengthAdjust="spacingAndGlyphs" fill="#222"  >Square footage is based on ANSI measurement standards from exterior dimensions.</text>
<text x="364" y="754.4" font-family="Liberation Serif" font-weight="normal" font-size="9.6" textLength="274.4" lengthAdjust="spacingAndGlyphs" fill="#222"  >Floor plan produced by Precision Home Measuring (910) 620-9711</text>
<text x="3.3" y="800" font-family="Liberation Sans" font-size="23" textLength="173" lengthAdjust="spacing" fill="#000" stroke="#fff" stroke-width="0.6">©2025 Hive MLS</text>
</svg>
</body></html>
